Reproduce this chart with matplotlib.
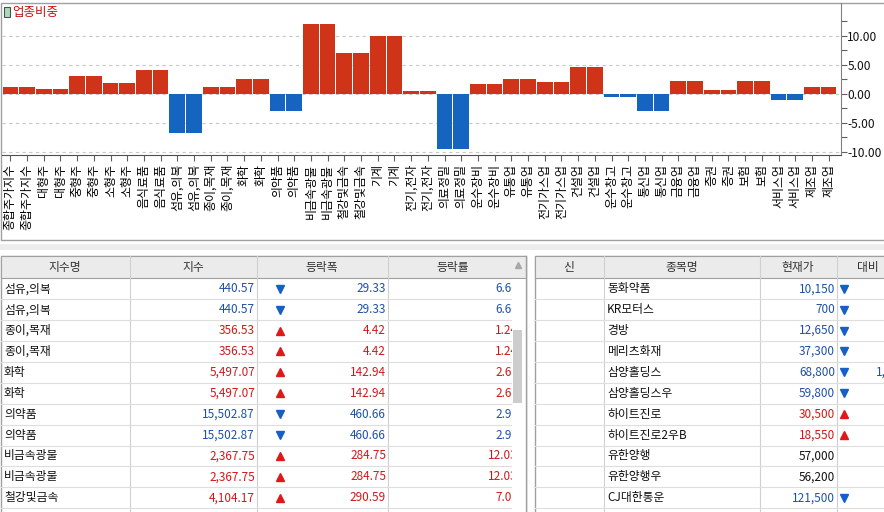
import matplotlib
matplotlib.use("Agg")
import matplotlib.pyplot as plt
from matplotlib.patches import Rectangle
from matplotlib.ticker import FixedLocator, FormatStrFormatter

plt.rcParams['font.family'] = ['Noto Sans CJK KR', 'DejaVu Sans']

W, H = 884, 512

# ---------- DATA ----------
# sector weights chart (each sector shows up twice in the screen)
sectors = ["종합주가지수", "대형주", "중형주", "소형주", "음식료품", "섬유,의복", "종이,목재",
           "화학", "의약품", "비금속광물", "철강및금속", "기계", "전기,전자", "의료정밀",
           "운수장비", "유통업", "전기가스업", "건설업", "운수창고", "통신업", "금융업",
           "증권", "보험", "서비스업", "제조업"]
weights = [1.21, 0.86, 3.10, 1.90, 4.14, -6.66, 1.24, 2.60, -2.97, 12.03, 7.08, 10.06,
           0.52, -9.43, 1.72, 2.59, 2.13, 4.66, -0.52, -2.87, 2.24, 0.69, 2.24, -0.98, 1.21]

# left table (index list)
idx_names = ["섬유,의복", "섬유,의복", "종이,목재", "종이,목재", "화학", "화학",
             "의약품", "의약품", "비금속광물", "비금속광물", "철강및금속"]
idx_values = [440.57, 440.57, 356.53, 356.53, 5497.07, 5497.07,
              15502.87, 15502.87, 2367.75, 2367.75, 4104.17]
idx_changes = [29.33, 29.33, 4.42, 4.42, 142.94, 142.94,
               460.66, 460.66, 284.75, 284.75, 290.59]
idx_rates = [6.66, 6.66, 1.24, 1.24, 2.60, 2.60, 2.97, 2.97, 12.03, 12.03, 7.08]
idx_dirs = [-1, -1, 1, 1, 1, 1, -1, -1, 1, 1, 1]

# right table (stock list)
stock_names = ["동화약품", "KR모터스", "경방", "메리츠화재", "삼양홀딩스", "삼양홀딩스우",
               "하이트진로", "하이트진로2우B", "유한양행", "유한양행우", "CJ대한통운"]
stock_prices = [10150, 700, 12650, 37300, 68800, 59800, 30500, 18550, 57000, 56200, 121500]
stock_diffs = [50, 5, 150, 350, 1200, 600, 350, 50, 0, 0, 500]
stock_dirs = [-1, -1, -1, -1, -1, -1, 1, 1, 0, 0, -1]

RED_BAR = "#D03418"
BLUE_BAR = "#1565C0"
RED_TXT = "#D01818"
BLUE_TXT = "#1E50A8"
LINE = "#A0A0A0"

fig = plt.figure(figsize=(W / 100, H / 100), dpi=100)

# background layer in pixel coords
bg = fig.add_axes([0, 0, 1, 1], zorder=0)
bg.set_xlim(0, W)
bg.set_ylim(H, 0)
bg.axis("off")

# ---------- TOP PANEL ----------
bg.add_patch(Rectangle((1, 3), W, 237, fill=False, ec=LINE, lw=1))
bg.add_patch(Rectangle((4, 7), 6, 10, fc="#A8DCB8", ec="#505050", lw=0.8))
bg.text(12, 12.5, "업종비중", color="#CC1111", fontsize=9, va="center", ha="left")
bg.add_patch(Rectangle((0, 244), W, 6, fc="#EDEDED", ec="none"))

labels = [s for s in sectors for _ in range(2)]
vals = [v for v in weights for _ in range(2)]
xs = list(range(len(vals)))
colors = [RED_BAR if v >= 0 else BLUE_BAR for v in vals]

ax = fig.add_axes([2 / W, 1 - 155 / H, (841 - 2) / W, (155 - 3) / H], zorder=1)
ax.set_facecolor("none")
ax.bar(xs, vals, width=0.94, color=colors, zorder=3)
ax.set_xlim(-0.5, len(vals) - 0.26)
ax.set_ylim(-10.52, 15.69)

ax.yaxis.tick_right()
ax.yaxis.set_major_locator(FixedLocator([-10, -5, 0, 5, 10]))
ax.yaxis.set_minor_locator(FixedLocator([-7.5, -2.5, 2.5, 7.5, 12.5]))
ax.yaxis.set_major_formatter(FormatStrFormatter("%.2f"))
ax.tick_params(axis="y", which="both", length=4, width=0.8, color="#606060",
               pad=0.5, labelsize=8.6, labelcolor="#111111")
ax.yaxis.grid(True, which="major", linestyle=(0, (3, 3)), color="#C8C8C8", lw=0.8)
ax.set_axisbelow(True)

ax.set_xticks(xs)
ax.set_xticklabels(labels, rotation=90, fontsize=8.6, va="top", ha="center")
ax.tick_params(axis="x", length=4, width=0.8, color="#606060", pad=2.5)

for side in ["top", "left"]:
    ax.spines[side].set_visible(False)
ax.spines["right"].set_color("#808080")
ax.spines["bottom"].set_color("#505050")
ax.spines["right"].set_linewidth(0.8)
ax.spines["bottom"].set_linewidth(0.8)

# ---------- TABLES ----------
HEAD_TOP, HEAD_BOT = 256, 278.3
ROW_H = 20.9
FS = 8.5

# left table
bg.add_patch(Rectangle((1, HEAD_TOP), 525, H, fc="white", ec=LINE, lw=1))
bg.add_patch(Rectangle((1, HEAD_TOP), 525, HEAD_BOT - HEAD_TOP, fc="#EBEBEB", ec=LINE, lw=0.8))
for cx in [130, 257, 388]:
    bg.plot([cx, cx], [HEAD_TOP, H], color="#D0D0D0", lw=0.8)
for txt, cx in zip(["지수명", "지수", "등락폭", "등락률"], [65, 193, 322, 453]):
    bg.text(cx, (HEAD_TOP + HEAD_BOT) / 2, txt, ha="center", va="center", fontsize=FS, color="#333333")

n_rows = int((H - HEAD_BOT) // ROW_H) + 1
for i in range(n_rows):
    top = HEAD_BOT + i * ROW_H
    if ((i + 1) // 3) % 2 == 0:
        bg.add_patch(Rectangle((1.5, top), 510, ROW_H, fc="#F4F4F4", ec="none", zorder=0.5))
    bg.plot([1, 512], [top + ROW_H, top + ROW_H], color="#DEDEDE", lw=0.8)

for i, name in enumerate(idx_names):
    yc = HEAD_BOT + i * ROW_H + ROW_H / 2
    col = BLUE_TXT if idx_dirs[i] < 0 else RED_TXT
    bg.text(4, yc, name, ha="left", va="center", fontsize=FS, color="#111111")
    bg.text(255, yc, f"{idx_values[i]:,.2f}", ha="right", va="center", fontsize=FS, color=col)
    bg.plot([280], [yc], marker="v" if idx_dirs[i] < 0 else "^", ms=6,
            color="#1560C8" if idx_dirs[i] < 0 else "#E01818", ls="none")
    bg.text(386, yc, f"{idx_changes[i]:,.2f}", ha="right", va="center", fontsize=FS, color=col)
    bg.text(518, yc, f"{idx_rates[i]:.2f}", ha="right", va="center", fontsize=FS, color=col)

# scrollbar covers the end of the rate column
bg.add_patch(Rectangle((511.5, HEAD_BOT + 0.5), 14, H, fc="white", ec="none", zorder=4))
bg.add_patch(Rectangle((513, 330), 9, 73, fc="#CDCDCD", ec="none", zorder=5))
bg.plot([518], [265], marker="^", ms=4, color="#A8A8A8", ls="none", zorder=5)
bg.plot([526, 526], [HEAD_TOP, H], color=LINE, lw=1, zorder=5)

# right table
bg.add_patch(Rectangle((535, HEAD_TOP), 400, H, fc="white", ec=LINE, lw=1))
bg.add_patch(Rectangle((535, HEAD_TOP), 400, HEAD_BOT - HEAD_TOP, fc="#EBEBEB", ec=LINE, lw=0.8))
for cx in [604, 760, 837]:
    bg.plot([cx, cx], [HEAD_TOP, H], color="#D0D0D0", lw=0.8)
for txt, cx in zip(["신", "종목명", "현재가", "대비"], [569, 682, 798, 868]):
    bg.text(cx, (HEAD_TOP + HEAD_BOT) / 2, txt, ha="center", va="center", fontsize=FS, color="#333333")

for i in range(n_rows):
    top = HEAD_BOT + i * ROW_H
    if (i // 3) % 2 == 1:
        bg.add_patch(Rectangle((535.5, top), 360, ROW_H, fc="#F4F4F4", ec="none", zorder=0.5))
    bg.plot([535, W], [top + ROW_H, top + ROW_H], color="#DEDEDE", lw=0.8)

for i, name in enumerate(stock_names):
    yc = HEAD_BOT + i * ROW_H + ROW_H / 2
    d = stock_dirs[i]
    col = BLUE_TXT if d < 0 else (RED_TXT if d > 0 else "#111111")
    bg.text(607, yc, name, ha="left", va="center", fontsize=FS, color="#111111")
    bg.text(835, yc, f"{stock_prices[i]:,}", ha="right", va="center", fontsize=FS, color=col)
    if d != 0:
        bg.plot([844], [yc], marker="v" if d < 0 else "^", ms=6,
                color="#1560C8" if d < 0 else "#E01818", ls="none")
        # the 대비 column runs past the window edge; only long values peek in
        if stock_diffs[i] >= 1000:
            bg.text(906, yc, f"{stock_diffs[i]:,}", ha="right", va="center", fontsize=FS, color=col)

fig.savefig("out.png", dpi=100)
